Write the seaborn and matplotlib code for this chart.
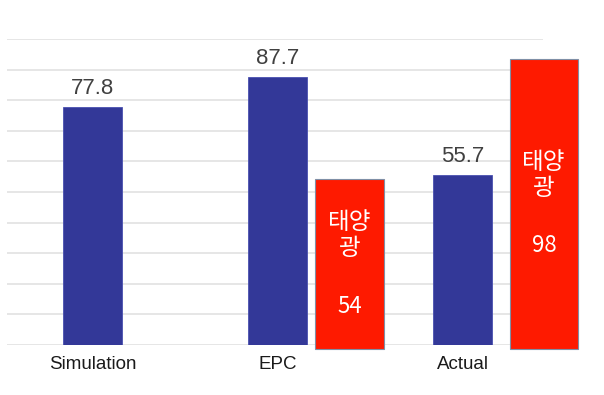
import matplotlib
matplotlib.use('Agg')
import matplotlib.pyplot as plt
import seaborn as sns

# data
categories = ['Simulation', 'EPC', 'Actual']
blue_values = [77.8, 87.7, 55.7]
solar_labels = ['54', '98']          # numbers printed in the red bars
solar_heights = [55.5, 94.8]         # drawn heights of the red bars (as pictured)
solar_text = '태양\n광'

sns.set_style('white')
plt.rcParams['font.family'] = ['Liberation Sans', 'DejaVu Sans']

BLUE = '#333898'
RED = '#fe1a00'

fig = plt.figure(figsize=(6.04, 3.95), dpi=100)
ax = fig.add_axes([7 / 604, 50 / 395, 536 / 604, 306 / 395])

sns.barplot(x=categories, y=blue_values, color=BLUE, saturation=1,
            width=0.32, edgecolor='#4a50b0', linewidth=0.6, ax=ax, zorder=3)

# red solar bars sit just right of EPC and Actual, drawn from slightly below baseline
red_pos = [1 + 0.39, 2 + 0.44]
ax.bar(red_pos, solar_heights, bottom=-1.3, width=0.37, color=RED,
       edgecolor='#7f8fa6', linewidth=0.8, clip_on=False, zorder=3)

# value labels over blue bars
for i, v in enumerate(blue_values):
    ax.text(i, v + 2.6, f'{v:.1f}', ha='center', va='bottom',
            fontsize=16, color='#404040', zorder=4)

# white text inside red bars
cjk = ['Noto Sans CJK KR', 'DejaVu Sans']
solar_text_y = [35.8, 55.4]
solar_num_y = [12.7, 32.4]
for x, ty, ny, lab in zip(red_pos, solar_text_y, solar_num_y, solar_labels):
    ax.text(x, ty, solar_text, ha='center', va='center', color='white',
            fontsize=17, family=cjk, linespacing=1.12, zorder=5)
    ax.text(x, ny, lab, ha='center', va='center', color='white',
            fontsize=16, family=cjk, zorder=5)

ax.set_ylim(0, 100)
ax.set_xlim(-0.462, 2.435)
ax.set_yticks(range(0, 101, 10))
ax.set_yticklabels([])
ax.yaxis.grid(True, color='#e2e2e2', linewidth=1.2, zorder=0)
ax.set_axisbelow(True)
ax.tick_params(axis='x', length=0, pad=8, labelsize=13.5, labelcolor='#1a1a1a')
ax.tick_params(axis='y', length=0)
ax.set_xlabel('')
ax.set_ylabel('')
for s in ax.spines.values():
    s.set_visible(False)

fig.savefig('out.png', dpi=100)
